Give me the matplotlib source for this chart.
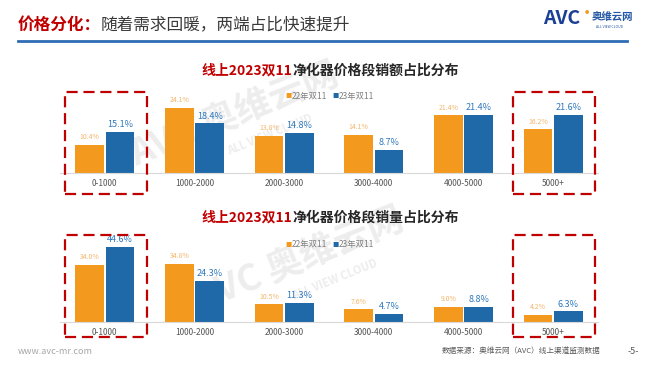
import matplotlib
matplotlib.use('Agg')
import matplotlib.pyplot as plt
from matplotlib.patches import Rectangle
import numpy as np

plt.rcParams['font.family'] = ['Noto Sans CJK SC', 'DejaVu Sans']

categories = ['0-1000', '1000-2000', '2000-3000', '3000-4000', '4000-5000', '5000+']
series_names = ['22年双11', '23年双11']
amount_22 = [10.4, 24.1, 13.8, 14.1, 21.4, 16.2]
amount_23 = [15.1, 18.4, 14.8, 8.7, 21.4, 21.6]
volume_22 = [34.0, 34.8, 10.5, 7.6, 9.0, 4.2]
volume_23 = [44.6, 24.3, 11.3, 4.7, 8.8, 6.3]

orange = '#F39A1E'
blue = '#1F69A8'
red = '#C00000'
W, H = 660, 372

fig = plt.figure(figsize=(6.6, 3.72), dpi=100)
fig.patch.set_facecolor('white')
renderer = fig.canvas.get_renderer()


def px(x, y):
    return x / W, 1 - y / H


def box(x0, y0, x1, y1):
    fx, fy = px(x0, y1)
    r = Rectangle((fx, fy), (x1 - x0) / W, (y1 - y0) / H, transform=fig.transFigure,
                  fill=False, edgecolor=red, lw=1.6, linestyle=(0, (5, 2.6)), zorder=5)
    fig.patches.append(r)


def two_part(x, y, s1, s2, c1, c2, size, w1, w2, center=False):
    # draw two strings back to back, optionally centred on x (pixels)
    t1 = fig.text(0, 0, s1, color=c1, fontsize=size, fontweight=w1, ha='left', va='center')
    t2 = fig.text(0, 0, s2, color=c2, fontsize=size, fontweight=w2, ha='left', va='center')
    a = t1.get_window_extent(renderer).width
    b = t2.get_window_extent(renderer).width
    x0 = x - (a + b) / 2 if center else x
    t1.set_position(px(x0, y))
    t2.set_position(px(x0 + a, y))


def chart(base_y, top_y, ymax, v22, v23, title_y, legend_y, title_rest):
    l, b = px(60, base_y)
    ax = fig.add_axes([l, b, 538 / W, (base_y - top_y) / H])
    x = np.arange(len(categories))
    w = 0.32
    ax.bar(x - 0.17, v22, w, color=orange, zorder=2)
    ax.bar(x + 0.17, v23, w, color=blue, zorder=2)
    for xi, a, c in zip(x, v22, v23):
        ax.annotate(f'{a:.1f}%', (xi - 0.17, a), xytext=(0, 2.5), textcoords='offset points',
                    ha='center', va='bottom', fontsize=5, color='#F5B56A')
        ax.annotate(f'{c:.1f}%', (xi + 0.17, c), xytext=(0, 2), textcoords='offset points',
                    ha='center', va='bottom', fontsize=6.5, color='#2E78BE')
    ax.set_xlim(-0.5, 5.5)
    ax.set_ylim(0, ymax)
    ax.set_xticks(x)
    ax.set_xticklabels(categories, fontsize=6, color='#555555')
    ax.tick_params(axis='x', length=0, pad=4)
    ax.set_yticks([])
    for s in ['top', 'right', 'left']:
        ax.spines[s].set_visible(False)
    ax.spines['bottom'].set_color('#D9D9D9')
    ax.spines['bottom'].set_linewidth(0.8)
    ax.patch.set_alpha(0)

    two_part(330, title_y, '线上2023双11', title_rest, red, '#262626', 10, 'bold', 'bold',
             center=True)
    # legend
    ly = px(0, legend_y)[1]
    fig.text(px(289, 0)[0], ly, '■', color=orange, fontsize=4.5, ha='center', va='center')
    fig.text(px(292, 0)[0], ly, series_names[0], color='#7F7F7F', fontsize=6, ha='left', va='center')
    fig.text(px(336, 0)[0], ly, '■', color=blue, fontsize=4.5, ha='center', va='center')
    fig.text(px(339, 0)[0], ly, series_names[1], color='#7F7F7F', fontsize=6, ha='left', va='center')
    return ax


# header
two_part(18, 25, '价格分化：', '随着需求回暖，两端占比快速提升', red, '#3A3A3A', 12, 'bold', 'normal')
fig.add_artist(plt.Line2D([18 / W, 627 / W], [1 - 41 / H] * 2, color='#2E6DB4', lw=2,
                          transform=fig.transFigure))

# logo
fig.text(px(543, 0)[0], 1 - 19 / H, 'AVC', color='#1B3F94', fontsize=14, fontweight='bold',
         fontstyle='italic', ha='left', va='center')
fig.text(px(587, 0)[0], 1 - 13 / H, '●', color=orange, fontsize=3, ha='center', va='center')
fig.text(px(592, 0)[0], 1 - 17 / H, '奥维云网', color='#2458A6', fontsize=7.5, fontweight='bold',
         ha='left', va='center')
fig.text(px(596, 0)[0], 1 - 27 / H, 'ALL VIEW CLOUD', color='#2458A6', fontsize=2.5,
         ha='left', va='center')

# watermarks (behind the bars)
for wx, wy in [(235, 115), (300, 260)]:
    fig.text(*px(wx, wy), 'AVC 奥维云网', color='#EDEDED', fontsize=26, fontweight='bold',
             rotation=22, ha='center', va='center', zorder=-1)
    fig.text(*px(wx + 35, wy + 20), 'ALL VIEW CLOUD', color='#EDEDED', fontsize=8,
             fontweight='bold', rotation=22, ha='center', va='center', zorder=-1)

chart(173, 90, 83 / 2.7, amount_22, amount_23, 71, 96, '净化器价格段销额占比分布')
chart(322, 237, 85 / 1.68, volume_22, volume_23, 218, 245, '净化器价格段销量占比分布')

box(65, 92, 147, 194)
box(513, 92, 595, 194)
box(65, 235, 147, 337)
box(513, 235, 595, 337)

# footer
fig.text(*px(18, 351), 'www.avc-mr.com', color='#A6A6A6', fontsize=6.5, ha='left', va='center')
fig.text(*px(600, 351), '数据来源：奥维云网（AVC）线上渠道监测数据', color='#595959', fontsize=5.5,
         ha='right', va='center')
fig.text(*px(633, 351), '-5-', color='#595959', fontsize=6.5, ha='center', va='center')

fig.savefig('out.png', dpi=100)
